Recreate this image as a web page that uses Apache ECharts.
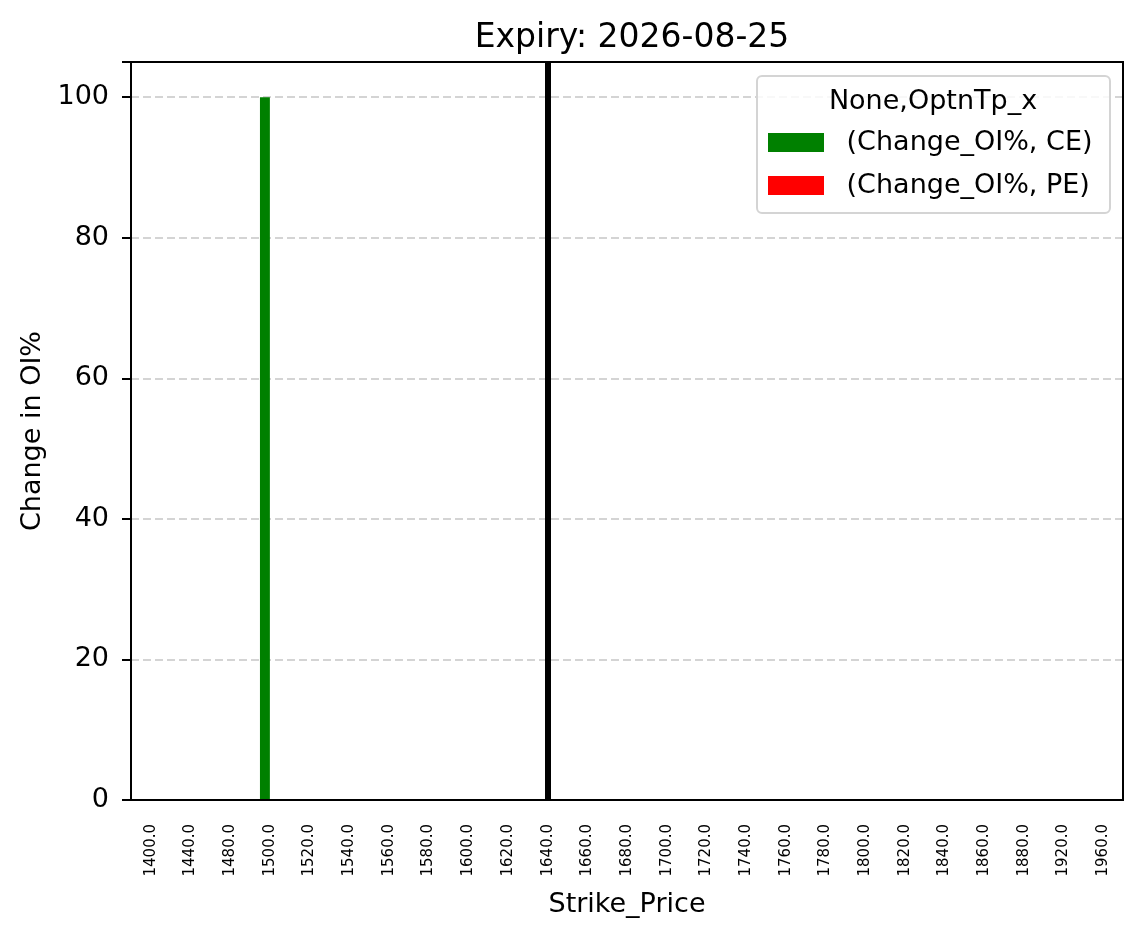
<!DOCTYPE html>
<html>
<head>
<meta charset="utf-8">
<script src="https://cdn.jsdelivr.net/npm/echarts@6/dist/echarts.min.js"></script>
<style>
  html, body { margin: 0; padding: 0; background: #fff; }
  #chart { width: 1143px; height: 939px; }
</style>
</head>
<body>
<div id="chart"></div>
<script>
  // strikes on the x axis
  const strikes = ["1400.0", "1440.0", "1480.0", "1500.0", "1520.0", "1540.0", "1560.0",
    "1580.0", "1600.0", "1620.0", "1640.0", "1660.0", "1680.0", "1700.0", "1720.0",
    "1740.0", "1760.0", "1780.0", "1800.0", "1820.0", "1840.0", "1860.0", "1880.0",
    "1920.0", "1960.0"];
  // Change_OI% per strike
  const ceChange = [0, 0, 0, 100, 0, 0, 0, 0, 0, 0, 0, 0, 0, 0, 0, 0, 0, 0, 0, 0, 0, 0, 0, 0, 0];
  const peChange = [0, 0, 0, 0, 0, 0, 0, 0, 0, 0, 0, 0, 0, 0, 0, 0, 0, 0, 0, 0, 0, 0, 0, 0, 0];
  const spotStrike = "1640.0";
  const yTicks = { min: 0, max: 105, interval: 20 };

  const font = "DejaVu Sans";
  const grid = { left: 131, right: 20, top: 62, bottom: 139 };
  const chart = echarts.init(document.getElementById("chart"));

  chart.setOption({
    animation: false,
    textStyle: { fontFamily: font },
    title: {
      text: "Expiry: 2026-08-25",
      left: 627,
      top: 17,
      textAlign: "center",
      textStyle: { fontFamily: font, fontSize: 33, fontWeight: "normal", color: "#000" }
    },
    graphic: [
      {
        // axes frame, on top of the grid lines
        type: "rect",
        shape: { x: grid.left, y: grid.top, width: 1143 - grid.left - grid.right, height: 939 - grid.top - grid.bottom },
        style: { fill: null, stroke: "#000", lineWidth: 2 },
        z: 100
      },
      {
        type: "rect",
        shape: { x: 757, y: 76, width: 353, height: 137, r: 5 },
        style: { fill: "rgba(255,255,255,0.85)", stroke: "#d4d4d4", lineWidth: 2 },
        z: 10
      },
      {
        type: "text",
        x: 933,
        y: 102,
        style: {
          text: "None,OptnTp_x",
          font: "27px DejaVu Sans",
          fill: "#000",
          align: "center",
          verticalAlign: "middle"
        },
        z: 11
      }
    ],
    legend: {
      orient: "vertical",
      left: 763,
      top: 124,
      itemWidth: 56,
      itemHeight: 19,
      itemGap: 16,
      icon: "rect",
      z: 12,
      data: [" (Change_OI%, CE)", " (Change_OI%, PE)"],
      textStyle: { fontFamily: font, fontSize: 27, color: "#000", padding: [0, 0, 0, 9] }
    },
    grid: grid,
    xAxis: {
      type: "category",
      data: strikes,
      name: "Strike_Price",
      nameLocation: "middle",
      nameGap: 91,
      nameTextStyle: { fontFamily: font, fontSize: 27, color: "#000" },
      axisLine: { lineStyle: { color: "#000", width: 2 } },
      axisTick: { alignWithLabel: true, length: 9, lineStyle: { color: "#000", width: 2 } },
      axisLabel: { rotate: 90, fontSize: 15, color: "#000", margin: 24, interval: 0 },
      splitLine: { show: false }
    },
    yAxis: {
      type: "value",
      min: yTicks.min,
      max: yTicks.max,
      interval: yTicks.interval,
      name: "Change in OI%",
      nameLocation: "middle",
      nameGap: 85,
      nameTextStyle: { fontFamily: font, fontSize: 27, color: "#000" },
      axisLine: { show: true, lineStyle: { color: "#000", width: 2 } },
      axisTick: { show: true, length: 9, lineStyle: { color: "#000", width: 2 } },
      axisLabel: {
        fontSize: 27,
        color: "#000",
        margin: 22,
        formatter: (v) => (v % 20 === 0 ? String(v) : "")
      },
      splitLine: { show: true, lineStyle: { color: "#c6c6c6", width: 1.6, type: [8, 4] } }
    },
    series: [
      {
        name: " (Change_OI%, CE)",
        type: "bar",
        data: ceChange,
        barWidth: "25%",
        barGap: "0%",
        itemStyle: { color: "#008000" }
      },
      {
        name: " (Change_OI%, PE)",
        type: "bar",
        data: peChange,
        barWidth: "25%",
        barGap: "0%",
        itemStyle: { color: "#ff0000" }
      },
      {
        // vertical marker at the spot strike
        name: "spot",
        type: "line",
        data: [],
        markLine: {
          silent: true,
          symbol: "none",
          label: { show: false },
          lineStyle: { color: "#000", width: 6, type: "solid" },
          data: [{ xAxis: spotStrike }]
        }
      }
    ]
  });
</script>
</body>
</html>
